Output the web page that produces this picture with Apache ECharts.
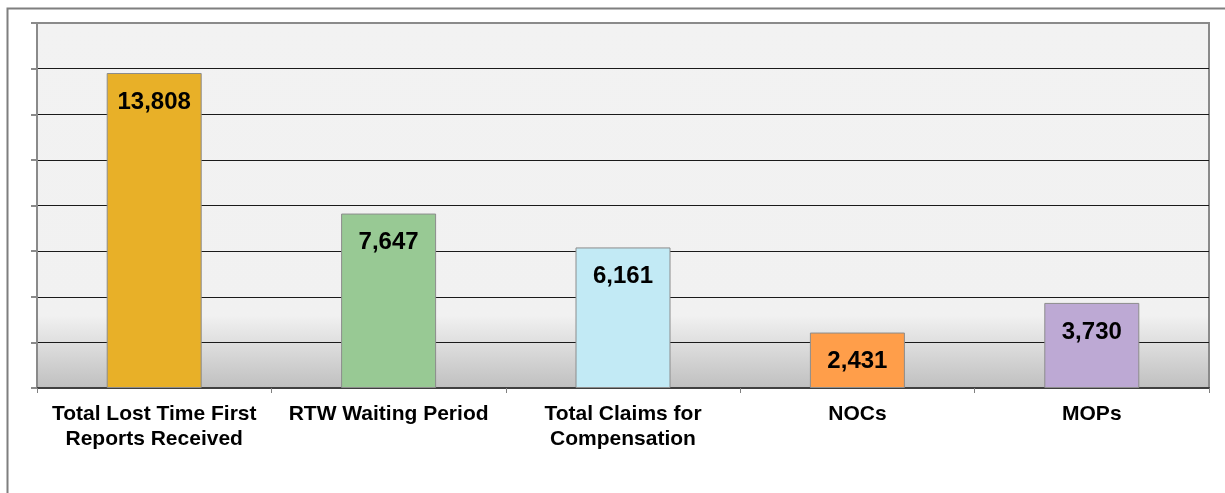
<!DOCTYPE html>
<html>
<head>
<meta charset="utf-8">
<script src="https://cdn.jsdelivr.net/npm/echarts@6/dist/echarts.min.js"></script>
<style>
  html, body { margin: 0; padding: 0; background: #fff; }
  #chart { width: 1225px; height: 493px; }
</style>
</head>
<body>
<div id="chart"></div>
<script>
const categories = [
  "Total Lost Time First\nReports Received",
  "RTW Waiting Period",
  "Total Claims for\nCompensation",
  "NOCs",
  "MOPs",
];
const values = [13808, 7647, 6161, 2431, 3730];
const barColors = ["#E8B028", "#98C994", "#C2EAF5", "#FF9E4A", "#BDA9D4"];

const chart = echarts.init(document.getElementById("chart"));

// frame round the whole chart (only top and left show in the window)
chart.setOption({
  animation: false,
  graphic: [
    {
      type: "rect",
      shape: { x: 7.5, y: 8.5, width: 1400, height: 700 },
      style: { fill: "none", stroke: "#7f7f7f", lineWidth: 2 },
      z: -10,
    },
  ],
  grid: {
    left: 37,
    right: 16,
    top: 23,
    bottom: 105,
    show: true,
    borderColor: "#8a8a8a",
    borderWidth: 2,
    backgroundColor: {
      type: "linear",
      x: 0, y: 0, x2: 0, y2: 1,
      colorStops: [
        { offset: 0, color: "#f2f2f2" },
        { offset: 0.8, color: "#f1f1f1" },
        { offset: 1, color: "#bfbfbf" },
      ],
    },
  },
  xAxis: [
    {
      type: "category",
      data: categories,
      axisLine: { lineStyle: { color: "#404040", width: 2 } },
      axisTick: { show: true, length: 5, lineStyle: { color: "#808080" } },
      axisLabel: {
        color: "#000",
        fontFamily: "Liberation Sans, Arial",
        fontWeight: "bold",
        fontSize: 21,
        lineHeight: 25,
        margin: 14,
        interval: 0,
      },
    },
    {
      type: "category",
      position: "top",
      data: categories,
      axisLine: { lineStyle: { color: "#8a8a8a", width: 2 } },
      axisTick: { show: false },
      axisLabel: { show: false },
    },
  ],
  yAxis: {
    type: "value",
    min: 0,
    max: 16000,
    interval: 2000,
    axisLine: { show: true, lineStyle: { color: "#8a8a8a", width: 2 } },
    axisTick: { show: true, length: 6, lineStyle: { color: "#8a8a8a", width: 2 } },
    axisLabel: { show: false },
    splitLine: { lineStyle: { color: "#1a1a1a", width: 1 } },
  },
  series: [
    {
      type: "bar",
      data: values.map((v, i) => ({
        value: v,
        itemStyle: { color: barColors[i] },
      })),
      barWidth: 95,
      itemStyle: { borderColor: "#8c8c8c", borderWidth: 1 },
      label: {
        show: true,
        position: "insideTop",
        distance: 17,
        color: "#000",
        fontFamily: "Liberation Sans, Arial",
        fontWeight: "bold",
        fontSize: 24,
        formatter: (p) => p.value.toLocaleString("en-US"),
      },
    },
  ],
});
</script>
</body>
</html>
